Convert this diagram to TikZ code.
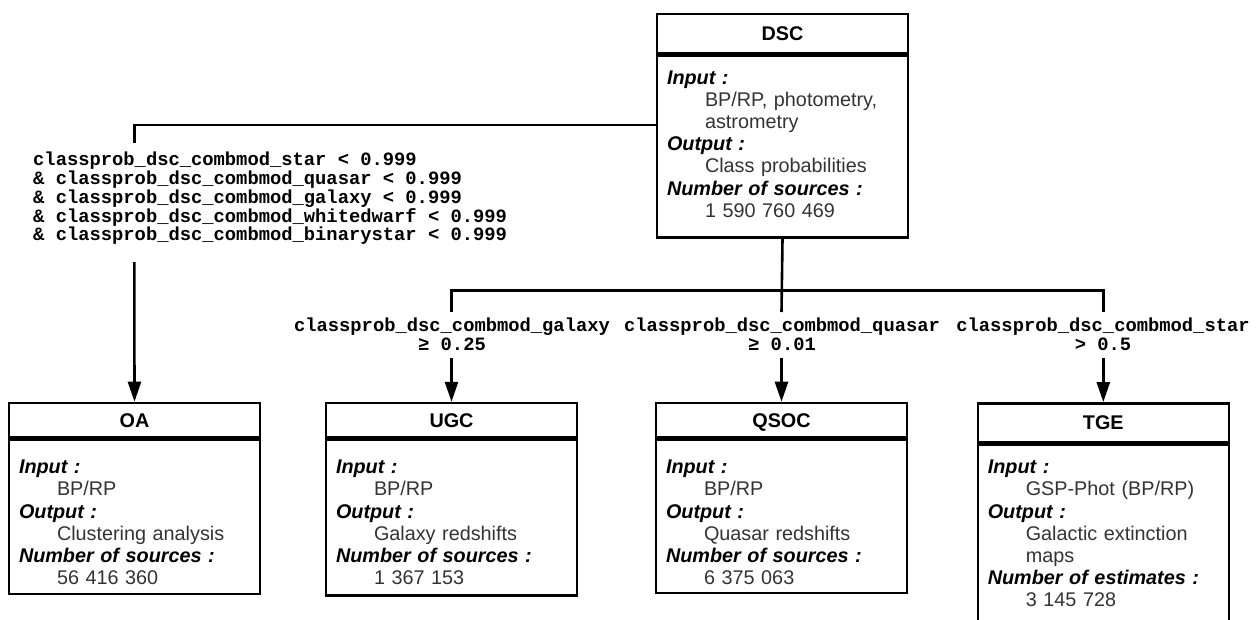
\documentclass[tikz,border=0pt]{standalone}
\usepackage{fontspec}
\setmainfont{Liberation Sans}
\setmonofont{Liberation Mono}
\usetikzlibrary{arrows.meta}
\definecolor{valgrey}{gray}{0.2}
\newcommand{\field}[1]{\textbf{\textit{#1}}}
\newcommand{\fval}[1]{\hspace*{38pt}\textcolor{valgrey}{#1}}
\newcommand{\topgap}[1]{\rule{0pt}{#1}}
\newcommand{\botgap}[1]{\rule[-#1]{0pt}{#1}}

\begin{document}
\begin{tikzpicture}[x=1pt, y=-1pt,
    title/.style = {draw, line width=2.6pt, minimum width=251pt, inner sep=0pt,
      text height=14.3pt, text depth=0pt,
      font=\fontsize{19.8pt}{22pt}\selectfont\bfseries},
    body/.style = {draw, line width=2.6pt, anchor=north, inner xsep=10pt, inner ysep=0pt,
      text width=231pt, align=left, font=\fontsize{19.8pt}{22.2pt}\selectfont},
    cond/.style = {inner sep=0pt, font=\fontsize{18.8pt}{18.9pt}\selectfont\ttfamily\bfseries},
    link/.style = {line width=2.6pt},
    arrow/.style = {line width=2.6pt, -{Triangle[length=20pt,width=13pt]}}]
  \useasboundingbox (0,0) rectangle (1257,619);

  \node[title, minimum height=39pt] (dsc) at (782.5, 33.5) {DSC};
  \node[body] (dscb) at (dsc.south) {\topgap{28.4pt}\field{Input :}\\
    \fval{BP/RP, photometry,}\\ \fval{astrometry}\\
    \field{Output :}\\ \fval{Class probabilities}\\
    \field{Number of sources :}\\ \fval{1 590 760 469}\botgap{20pt}};

  \node[title, minimum height=34pt] (oa) at (134.5, 420) {OA};
  \node[body] (oab) at (oa.south) {\topgap{34pt}\field{Input :}\\ \fval{BP/RP}\\
    \field{Output :}\\ \fval{Clustering analysis}\\
    \field{Number of sources :}\\ \fval{56 416 360}\botgap{9.5pt}};

  \node[title, minimum height=34.5pt] (ugc) at (451.5, 420.3) {UGC};
  \node[body] (ugcb) at (ugc.south) {\topgap{33.5pt}\field{Input :}\\ \fval{BP/RP}\\
    \field{Output :}\\ \fval{Galaxy redshifts}\\
    \field{Number of sources :}\\ \fval{1 367 153}\botgap{11pt}};

  \node[title, minimum height=34pt] (qsoc) at (781.5, 420) {QSOC};
  \node[body] (qsocb) at (qsoc.south) {\topgap{34pt}\field{Input :}\\ \fval{BP/RP}\\
    \field{Output :}\\ \fval{Quasar redshifts}\\
    \field{Number of sources :}\\ \fval{6 375 063}\botgap{8.5pt}};

  \node[title, minimum height=39pt] (tge) at (1103.3, 422.8) {TGE};
  \node[body] (tgeb) at (tge.south) {\topgap{28.7pt}\field{Input :}\\ \fval{GSP-Phot (BP/RP)}\\
    \field{Output :}\\ \fval{Galactic extinction}\\ \fval{maps}\\
    \field{Number of estimates :}\\ \fval{3 145 728}\botgap{20pt}};

  % selection conditions
  \node[cond, anchor=north west, align=left] (oacond) at (33, 151.5) {classprob\_dsc\_combmod\_star < 0.999\\
    \& classprob\_dsc\_combmod\_quasar < 0.999\\
    \& classprob\_dsc\_combmod\_galaxy < 0.999\\
    \& classprob\_dsc\_combmod\_whitedwarf < 0.999\\
    \& classprob\_dsc\_combmod\_binarystar < 0.999};
  \node[cond, anchor=north, align=center] (ugccond) at (452, 318) {classprob\_dsc\_combmod\_galaxy\\ ≥ 0.25};
  \node[cond, anchor=north, align=center] (qsoccond) at (782, 318) {classprob\_dsc\_combmod\_quasar\\ ≥ 0.01};
  \node[cond, anchor=north, align=center] (tgecond) at (1103, 318) {classprob\_dsc\_combmod\_star\\ > 0.5};

  % connectors
  \coordinate (lfork) at (134.3, 125);
  \coordinate (lend) at (134.3, 143);
  \coordinate (lstart) at (134.3, 262);
  \coordinate (rfork) at (782, 290.7);
  \draw[link] (dscb.west |- lfork) -| (lend);
  \draw[arrow] (lstart) -- (oa.north);
  \draw[link] (dscb.south) -- (qsoc.north |- 0,312);
  \draw[link] (ugc.north |- 0,312) |- (rfork) -| (tge.north |- 0,312);
  \foreach \b in {ugc, qsoc, tge}
    \draw[arrow] (\b.north |- 0,358) -- (\b.north);
\end{tikzpicture}
\end{document}
